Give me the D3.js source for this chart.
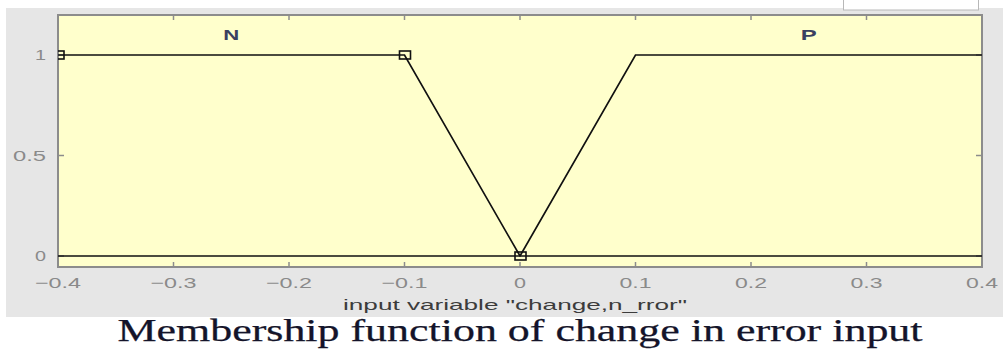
<!DOCTYPE html>
<html>
<head>
<meta charset="utf-8">
<script src="https://cdn.jsdelivr.net/npm/d3@7"></script>
<style>
  body { margin: 0; background: #fff; }
  svg { display: block; }
</style>
</head>
<body>
<div id="chart"></div>
<script>
// membership functions (x, y points)
const nX = [-0.4, -0.1, 0, 0.4];
const nY = [1, 1, 0, 0];
const pX = [-0.4, 0, 0.1, 0.4];
const pY = [0, 0, 1, 1];
// selected mf params (markers)
const markX = [-0.4, -0.1, 0];
const markY = [1, 1, 0];
const mfNames = ["N", "P"];
const mfCenters = [-0.25, 0.25];
const xTicks = [-0.4, -0.3, -0.2, -0.1, 0, 0.1, 0.2, 0.3, 0.4];
const yTicks = [0, 0.5, 1];
const xLabel = 'input variable "change,n_rror"';
const title = "Membership function of change in error input";

const W = 1003, H = 351;
const plotL = 58, plotR = 982, plotT = 15, plotB = 267;

const svg = d3.select("#chart").append("svg")
    .attr("width", W)
    .attr("height", H);

// gray figure panel
svg.append("rect")
    .attr("x", 6).attr("y", 8)
    .attr("width", W - 6).attr("height", 309)
    .attr("fill", "#e6e6e6");

// little white box top right
svg.append("rect")
    .attr("x", 843.5).attr("y", -2)
    .attr("width", 135).attr("height", 12)
    .attr("fill", "#fff")
    .attr("stroke", "#b8b8b8");

const x = d3.scaleLinear().domain([-0.4, 0.4]).range([plotL, plotR]);
const y = d3.scaleLinear().domain([0, 1]).range([256, 55]);

// plot area
svg.append("rect")
    .attr("x", plotL).attr("y", plotT)
    .attr("width", plotR - plotL).attr("height", plotB - plotT)
    .attr("fill", "#ffffcc");

// ticks (inward, all four sides)
const tickG = svg.append("g").attr("stroke", "#8c8c8c").attr("stroke-width", 1.5);
xTicks.slice(1, -1).forEach(t => {
    tickG.append("line").attr("x1", x(t)).attr("x2", x(t)).attr("y1", plotT).attr("y2", plotT + 5);
    tickG.append("line").attr("x1", x(t)).attr("x2", x(t)).attr("y1", plotB).attr("y2", plotB - 5);
});
yTicks.forEach(t => {
    tickG.append("line").attr("x1", plotL).attr("x2", plotL + 6).attr("y1", y(t)).attr("y2", y(t));
    tickG.append("line").attr("x1", plotR).attr("x2", plotR - 6).attr("y1", y(t)).attr("y2", y(t));
});

// border
svg.append("rect")
    .attr("x", plotL).attr("y", plotT)
    .attr("width", plotR - plotL).attr("height", plotB - plotT)
    .attr("fill", "none")
    .attr("stroke", "#8c8c8c")
    .attr("stroke-width", 2);

const line = d3.line().x(d => x(d[0])).y(d => y(d[1]));

[[nX, nY], [pX, pY]].forEach(([xs, ys]) => {
    svg.append("path")
        .datum(xs.map((v, i) => [v, ys[i]]))
        .attr("d", line)
        .attr("fill", "none")
        .attr("stroke", "#111")
        .attr("stroke-width", 1.7);
});

// markers
svg.append("clipPath").attr("id", "pc")
    .append("rect").attr("x", plotL).attr("y", plotT).attr("width", plotR - plotL).attr("height", plotB - plotT);
svg.append("g").attr("clip-path", "url(#pc)")
    .selectAll("rect")
    .data(markX)
    .enter()
    .append("rect")
    .attr("x", d => x(d) - 5)
    .attr("y", (d, i) => y(markY[i]) - 4)
    .attr("width", 11)
    .attr("height", 8)
    .attr("fill", "none")
    .attr("stroke", "#111")
    .attr("stroke-width", 1.6);

// mf names
svg.selectAll(".mfname")
    .data(mfNames)
    .enter()
    .append("text")
    .attr("x", (d, i) => x(mfCenters[i]))
    .attr("y", 40)
    .attr("text-anchor", "middle")
    .attr("font-family", "Arial, 'Liberation Sans', sans-serif")
    .attr("font-size", 15)
    .attr("font-weight", "bold")
    .attr("fill", "#3a4060")
    .attr("textLength", 16)
    .attr("lengthAdjust", "spacingAndGlyphs")
    .text(d => d);

// x tick labels
const tw = t => t === 0 ? 12 : (t < 0 ? 46 : 32);
svg.selectAll(".xt")
    .data(xTicks)
    .enter()
    .append("text")
    .attr("x", d => x(d))
    .attr("y", 288)
    .attr("text-anchor", "middle")
    .attr("font-family", "Arial, 'Liberation Sans', sans-serif")
    .attr("font-size", 15)
    .attr("fill", "#8a8a8a")
    .attr("textLength", tw)
    .attr("lengthAdjust", "spacingAndGlyphs")
    .text(d => d3.format("")(d).replace("-", "\u2212"));

// y tick labels
svg.selectAll(".yt")
    .data(yTicks)
    .enter()
    .append("text")
    .attr("x", 46)
    .attr("y", d => y(d) + 5)
    .attr("text-anchor", "end")
    .attr("font-family", "Arial, 'Liberation Sans', sans-serif")
    .attr("font-size", 15)
    .attr("fill", "#8a8a8a")
    .attr("textLength", d => d === 0.5 ? 33 : 11)
    .attr("lengthAdjust", "spacingAndGlyphs")
    .text(d => d);

// x label
svg.append("text")
    .attr("x", 515)
    .attr("y", 310)
    .attr("text-anchor", "middle")
    .attr("font-family", "Arial, 'Liberation Sans', sans-serif")
    .attr("font-size", 15)
    .attr("fill", "#3c3c3c")
    .attr("textLength", 344)
    .attr("lengthAdjust", "spacingAndGlyphs")
    .text(xLabel);

// caption
svg.append("text")
    .attr("x", 520)
    .attr("y", 341)
    .attr("text-anchor", "middle")
    .attr("font-family", "'Liberation Serif', 'Times New Roman', serif")
    .attr("font-size", 31)
    .attr("fill", "#14142a")
    .attr("stroke", "#14142a")
    .attr("stroke-width", 0.25)
    .attr("textLength", 805)
    .attr("lengthAdjust", "spacingAndGlyphs")
    .text(title);
</script>
</body>
</html>
